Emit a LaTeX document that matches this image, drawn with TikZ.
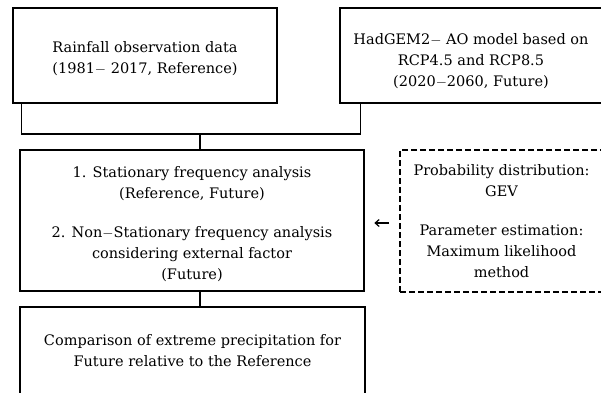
\documentclass[tikz,border=0pt]{standalone}
\usepackage{fontspec}
\setmainfont{DejaVu Serif}
\usetikzlibrary{arrows.meta}

\begin{document}
\begin{tikzpicture}[x=1pt,y=1pt,
    font=\fontsize{14.5}{21}\selectfont,
    stepbox/.style={draw=black,line width=2.6pt,align=center,inner sep=0pt},
    dashbox/.style={draw=black,line width=2pt,dash pattern=on 6pt off 3pt,align=center,inner sep=0pt},
    link/.style={draw=black,line width=1.4pt}]
  \useasboundingbox (0,0) rectangle (601,-392);
  \clip (0,0) rectangle (601,-392);
  % input data
  \node[stepbox,minimum width=264pt,minimum height=95pt] (obs) at (145,-55.5)
    {\rule{0pt}{18pt}Rainfall observation data\\(1981$-$ 2017, Reference)};
  \node[stepbox,minimum width=262pt,minimum height=95pt] (gcm) at (471,-55.5)
    {\rule{0pt}{23pt}HadGEM2$-$ AO model based on\\RCP4.5 and RCP8.5\\(2020$-$2060, Future)};
  % analysis
  \node[stepbox,minimum width=344pt,minimum height=141pt] (freq) at (192,-220.5)
    {\rule{0pt}{18pt}1. Stationary frequency analysis\\(Reference, Future)\\[18pt]
     2. Non$-$Stationary frequency analysis\\considering external factor\\(Future)};
  \node[dashbox,minimum width=203pt,minimum height=142pt] (dist) at (501.5,-221)
    {Probability distribution:\\GEV\\[18pt]
     Parameter estimation:\\Maximum likelihood\\method};
  % result
  \node[stepbox,minimum width=345pt,minimum height=88pt] (comp) at (192.5,-351)
    {Comparison of extreme precipitation for\\Future relative to the Reference};
  \coordinate (join) at (200,-134);
  \draw[link] ([xshift=10pt]obs.south west) |- (join) -| ([xshift=22pt]gcm.south west);
  \draw[link] (join) -- (join |- freq.north);
  \draw[link] (freq.south -| join) -- (comp.north -| join);
  \draw[line width=1.2pt,-{Straight Barb[length=4pt,width=7pt]},shorten <=10pt,shorten >=9pt]
    ([yshift=-2pt]dist.west) -- ([yshift=-2pt]dist.west -| freq.east);
\end{tikzpicture}
\end{document}
